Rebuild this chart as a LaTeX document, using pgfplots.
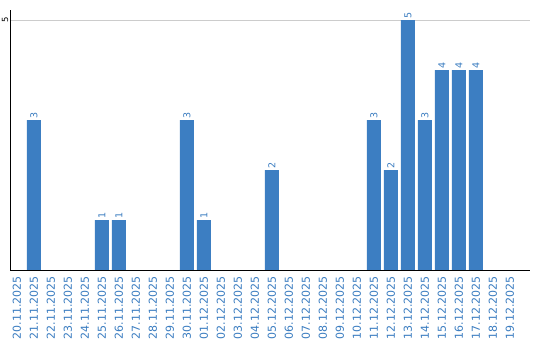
\documentclass[border=0pt]{standalone}
\usepackage{pgfplots}
\pgfplotsset{compat=1.18}
\usepackage{fontspec}
\setmainfont{DejaVu Sans}
\definecolor{barblue}{RGB}{60,126,194}
\definecolor{lblblue}{RGB}{58,124,192}
\begin{document}
\begin{tikzpicture}
\useasboundingbox (0,0) rectangle (540bp,340bp);
\begin{axis}[
  at={(10bp,70bp)}, anchor=south west,
  scale only axis, width=520bp, height=260bp,
  xmin=-0.41, xmax=30.18, ymin=0, ymax=5.2,
  axis x line=bottom, axis y line=left,
  axis line style={-, black, line width=1bp},
  ytick={5}, ymajorgrids, major grid style={color=black!20, line width=1bp},
  major tick length=0,
  xtick={0,...,29},
  xticklabels={20.11.2025,21.11.2025,22.11.2025,23.11.2025,24.11.2025,25.11.2025,26.11.2025,27.11.2025,28.11.2025,29.11.2025,30.11.2025,01.12.2025,02.12.2025,03.12.2025,04.12.2025,05.12.2025,06.12.2025,07.12.2025,08.12.2025,09.12.2025,10.12.2025,11.12.2025,12.12.2025,13.12.2025,14.12.2025,15.12.2025,16.12.2025,17.12.2025,18.12.2025,19.12.2025},
  xticklabel style={rotate=90, anchor=east, font=\fontsize{11bp}{12bp}\selectfont, text=lblblue, inner sep=0pt, xshift=-6bp},
  yticklabel style={rotate=90, anchor=south, font=\fontsize{8.5bp}{9bp}\selectfont, inner sep=1.5bp},
  /pgf/number format/assume math mode=true,
  ybar, bar width=14bp,
  nodes near coords,
  every node near coord/.append style={rotate=90, anchor=west, font=\fontsize{9.5bp}{10bp}\selectfont, text=lblblue, inner sep=1.5bp},
]
\addplot[fill=barblue, draw=none] coordinates {
 (1,3) (5,1) (6,1) (10,3) (11,1) (15,2) (21,3) (22,2) (23,5) (24,3) (25,4) (26,4) (27,4)
};
\end{axis}
\end{tikzpicture}
\end{document}
